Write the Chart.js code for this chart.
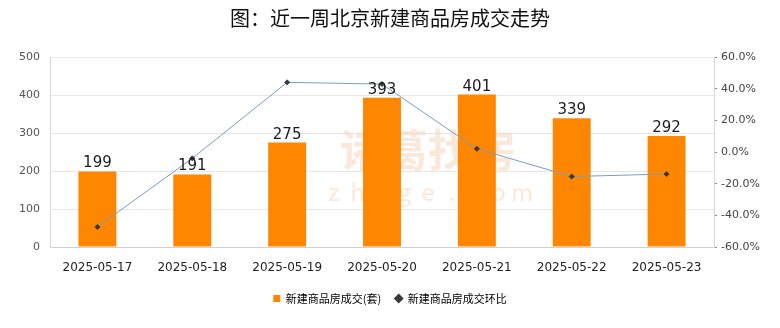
<!DOCTYPE html>
<html>
<head>
<meta charset="utf-8">
<script src="https://cdn.jsdelivr.net/npm/chart.js@4"></script>
<style>
  html, body { margin: 0; padding: 0; background: #fff; }
  #wrap { width: 780px; height: 328px; }
</style>
</head>
<body>
<div id="wrap"><canvas id="myChart" width="780" height="328"></canvas></div>
<script>
  // chart data
  const categories = ["2025-05-17", "2025-05-18", "2025-05-19", "2025-05-20", "2025-05-21", "2025-05-22", "2025-05-23"];
  const salesValues = [199, 191, 275, 393, 401, 339, 292];
  const changeValues = [-47.3, -4.0, 44.0, 42.9, 2.0, -15.5, -13.9];
  const seriesNames = ["新建商品房成交(套)", "新建商品房成交环比"];
  const titleText = "图：近一周北京新建商品房成交走势";

  const cjk = "'Noto Sans CJK SC', 'Noto Sans', sans-serif";

  // title, watermark and bar labels
  let drawExtras = {
    id: "drawExtras",
    beforeDatasetsDraw: function (chart) {
      let ctx = chart.ctx;
      ctx.save();
      ctx.fillStyle = "rgba(246, 212, 184, 0.5)";
      ctx.font = "bold 44px " + cjk;
      ctx.textAlign = "center";
      ctx.textBaseline = "middle";
      ctx.fillText("诸葛找房", 428, 150);
      ctx.font = "24px " + cjk;
      let word = "zhuge.com";
      for (let i = 0; i < word.length; i++) {
        ctx.fillText(word[i], 334 + i * 23.5, 192);
      }
      ctx.restore();
    },
    afterDraw: function (chart) {
      let ctx = chart.ctx;
      ctx.save();
      ctx.fillStyle = "#111";
      ctx.font = "20px " + cjk;
      ctx.textAlign = "center";
      ctx.textBaseline = "middle";
      ctx.fillText(titleText, 390, 18);

      let meta = chart.getDatasetMeta(1);
      ctx.font = "15px 'DejaVu Sans', sans-serif";
      ctx.textBaseline = "alphabetic";
      ctx.fillStyle = "#1a1a1a";
      meta.data.forEach(function (bar, i) {
        ctx.fillText(salesValues[i], bar.x, bar.y - 4);
      });
      ctx.restore();
    },
  };

  let ctx = document.getElementById("myChart").getContext("2d");
  let myChart = new Chart(ctx, {
    data: {
      labels: categories,
      datasets: [
        {
          type: "line",
          label: seriesNames[1],
          data: changeValues,
          yAxisID: "y1",
          borderColor: "#7b9dc2",
          borderWidth: 1,
          pointStyle: "rectRot",
          pointRadius: 2.5,
          pointBackgroundColor: "#3a3a3a",
          pointBorderColor: "#3a3a3a",
          tension: 0,
          order: 0,
        },
        {
          type: "bar",
          label: seriesNames[0],
          data: salesValues,
          yAxisID: "y",
          backgroundColor: "#ff8600",
          barPercentage: 0.4,
          categoryPercentage: 1,
          order: 1,
        },
      ],
    },
    options: {
      responsive: false,
      animation: false,
      devicePixelRatio: 1,
      layout: { padding: { top: 57, bottom: 14, left: 0, right: 0 } },
      plugins: {
        title: { display: false },
        tooltip: { enabled: false },
        legend: {
          position: "bottom",
          labels: {
            usePointStyle: true,
            boxWidth: 7,
            boxHeight: 7,
            padding: 14,
            color: "#333",
            font: { size: 11, family: cjk },
            generateLabels: function (chart) {
              return [
                { text: seriesNames[0], fillStyle: "#ff8600", strokeStyle: "#ff8600", pointStyle: "rect", lineWidth: 0, datasetIndex: 1 },
                { text: seriesNames[1], fillStyle: "#3a3a3a", strokeStyle: "#3a3a3a", pointStyle: "rectRot", lineWidth: 0, datasetIndex: 0 },
              ];
            },
          },
        },
      },
      scales: {
        x: {
          grid: { display: false },
          border: { color: "#d0d0d0" },
          ticks: { color: "#222", font: { size: 12, family: "'DejaVu Sans', sans-serif" }, padding: 6 },
          afterFit: function (scale) { scale.height = 32; },
        },
        y: {
          position: "left",
          min: 0,
          max: 500,
          ticks: { stepSize: 100, color: "#555", font: { size: 11, family: "'DejaVu Sans', sans-serif" }, padding: 10 },
          grid: { color: "#e6e6e6", drawTicks: false },
          border: { color: "#d6d6d6" },
          afterFit: function (scale) { scale.width = 50; },
        },
        y1: {
          position: "right",
          min: -60,
          max: 60,
          ticks: {
            stepSize: 10,
            color: "#444",
            font: { size: 11, family: "'DejaVu Sans', sans-serif" },
            padding: 4,
            callback: function (v) {
              return v % 20 === 0 ? v.toFixed(1) + "%" : "";
            },
          },
          grid: { drawOnChartArea: false, tickLength: 3, color: "#888" },
          border: { color: "#d6d6d6" },
          afterFit: function (scale) { scale.width = 66; },
        },
      },
    },
    plugins: [drawExtras],
  });
</script>
</body>
</html>
